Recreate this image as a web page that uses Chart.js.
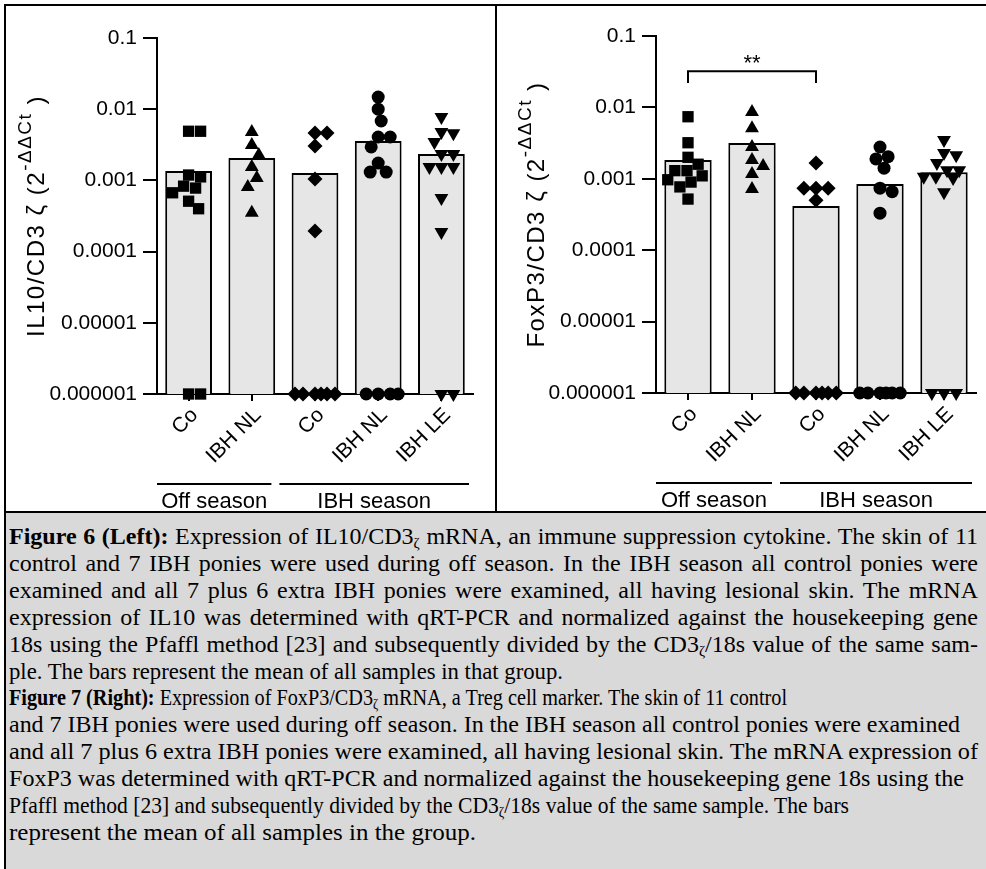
<!DOCTYPE html>
<html>
<head>
<meta charset="utf-8">
<script src="https://cdn.jsdelivr.net/npm/chart.js@4.4.0/dist/chart.umd.min.js"></script>
<style>
html, body { margin: 0; padding: 0; background: #fff; }
body { width: 986px; height: 869px; position: relative; overflow: hidden; }
.ln { position: absolute; background: #000; }
.panel { position: absolute; top: 6px; width: 489px; height: 505px; }
#cap {
  position: absolute; left: 6px; top: 513px; width: 980px; height: 356px;
  background: #d9d9d9; color: #000; box-sizing: border-box; padding: 10px 8px 0 3px;
  font-family: "Liberation Serif", "Times New Roman", serif; font-size: 24px; line-height: 26.9px;
}
#cap .j { text-align: justify; text-align-last: justify; }
#cap .r { white-space: nowrap; transform-origin: 0 50%; width: max-content; }
#cap sub { font-size: 62%; vertical-align: -0.3em; line-height: 0; }
</style>
</head>
<body>
<div class="panel" style="left:6px"><canvas id="il10"></canvas></div>
<div class="panel" style="left:497px"><canvas id="foxp3"></canvas></div>

<div id="cap">
  <div class="j"><b>Figure 6 (Left):</b> Expression of IL10/CD3<sub>ζ</sub> mRNA, an immune suppression cytokine. The skin of 11</div>
  <div class="j">control and 7 IBH ponies were used during off season. In the IBH season all control ponies were</div>
  <div class="j">examined and all 7 plus 6 extra IBH ponies were examined, all having lesional skin. The mRNA</div>
  <div class="j">expression of IL10 was determined with qRT-PCR and normalized against the housekeeping gene</div>
  <div class="j">18s using the Pfaffl method [23] and subsequently divided by the CD3<sub>ζ</sub>/18s value of the same sam-</div>
  <div class="r" data-w="554">ple. The bars represent the mean of all samples in that group.</div>
  <div class="r" data-w="778"><b>Figure 7 (Right):</b> Expression of FoxP3/CD3<sub>ζ</sub> mRNA, a Treg cell marker. The skin of 11 control</div>
  <div class="r" data-w="951">and 7 IBH ponies were used during off season. In the IBH season all control ponies were examined</div>
  <div class="r" data-w="969">and all 7 plus 6 extra IBH ponies were examined, all having lesional skin. The mRNA expression of</div>
  <div class="r" data-w="955">FoxP3 was determined with qRT-PCR and normalized against the housekeeping gene 18s using the</div>
  <div class="r" data-w="840">Pfaffl method [23] and subsequently divided by the CD3<sub>ζ</sub>/18s value of the same sample. The bars</div>
  <div class="r" data-w="467">represent the mean of all samples in the group.</div>
</div>

<div class="ln" style="left:4px;top:4px;width:982px;height:2px"></div>
<div class="ln" style="left:4px;top:4px;width:2px;height:865px"></div>
<div class="ln" style="left:495px;top:4px;width:2px;height:509px"></div>
<div class="ln" style="left:4px;top:511px;width:982px;height:2px"></div>

<script>
// categories and axis
const categories = ['Co', 'IBH NL', 'Co', 'IBH NL', 'IBH LE'];
const seasons = ['Off season', 'IBH season'];
const yTicks = [0.000001, 0.00001, 0.0001, 0.001, 0.01, 0.1];
const yTickLabels = ['0.000001', '0.00001', '0.0001', '0.001', '0.01', '0.1'];

// IL10/CD3 zeta (left)
const il10Means = [0.00136, 0.00207, 0.00127, 0.00357, 0.00235];
const il10CoOff = [0.0049, 0.0049, 0.00119, 0.00112, 0.00083, 0.00078, 0.00067, 0.00051, 0.0004, 0.000001, 0.000001];
const il10NlOff = [0.0048, 0.00314, 0.00228, 0.00154, 0.00108, 0.00081, 0.00035];
const il10CoIbh = [0.00463, 0.00463, 0.00304, 0.00105, 0.000195, 0.000001, 0.000001, 0.000001, 0.000001, 0.000001, 0.000001];
const il10NlIbh = [0.0148, 0.01, 0.00683, 0.00407, 0.00407, 0.00295, 0.00175, 0.00131, 0.00131, 0.000001, 0.000001, 0.000001, 0.000001];
const il10LeIbh = [0.00776, 0.0048, 0.0046, 0.00347, 0.00235, 0.00235, 0.00154, 0.00154, 0.00154, 0.000566, 0.000188, 0.000001, 0.000001];

// FoxP3/CD3 zeta (right)
const foxMeans = [0.00183, 0.00316, 0.000417, 0.000845, 0.00124];
const foxCoOff = [0.0074, 0.0032, 0.002, 0.0016, 0.0013, 0.0013, 0.0011, 0.00097, 0.0009, 0.00077, 0.00052];
const foxNlOff = [0.00863, 0.0051, 0.00279, 0.00183, 0.00151, 0.00117, 0.00072];
const foxCoIbh = [0.00166, 0.00074, 0.00074, 0.00074, 0.0005, 0.000001, 0.000001, 0.000001, 0.000001, 0.000001, 0.000001];
const foxNlIbh = [0.00279, 0.00204, 0.0019, 0.00141, 0.00074, 0.00066, 0.00033, 0.000001, 0.000001, 0.000001, 0.000001, 0.000001, 0.000001];
const foxLeIbh = [0.00349, 0.00229, 0.00214, 0.00166, 0.00132, 0.00132, 0.00107, 0.00107, 0.00103, 0.00065, 0.000001, 0.000001, 0.000001];

// significance bracket (right panel): Co off season vs Co IBH season
const sigPair = [0, 2];
const sigTop = 0.032;
const sigLeg = 0.022;
const sigText = '**';

// marker looks per group
const markerStyle = ['rect', 'triangle', 'rectRot', 'circle', 'triangle'];
const markerRot = [0, 0, 0, 0, 180];
const markerSize = [8, 8, 7.5, 6.5, 8];

const FONT = '"Liberation Sans", Arial, sans-serif';
Chart.defaults.font.family = FONT;
Chart.defaults.font.size = 21;
Chart.defaults.color = '#000';

const PX_DECADE = 71.2;
const PX_CAT = 63.2;

// squeeze the ragged caption lines to the widths they have in the figure
document.querySelectorAll('#cap .r').forEach(el => {
  const w = el.getBoundingClientRect().width;
  el.style.transform = 'scaleX(' + (+el.dataset.w / w) + ')';
});

// simple beeswarm: spread points sideways so they don't sit on top of each other
function swarm(vals, d, maxW) {
  const placed = [];
  const out = new Array(vals.length).fill(0);
  vals.map((v, i) => i).sort((a, b) => vals[b] - vals[a]).forEach(i => {
    const y = Math.log10(vals[i]) * PX_DECADE;
    let best = 0, bestD = -1;
    for (let k = 0; k <= 2 * maxW; k++) {
      const dx = (k % 2 ? 1 : -1) * Math.ceil(k / 2);
      let m = Infinity;
      placed.forEach(p => { m = Math.min(m, Math.hypot(dx - p[0], y - p[1])); });
      if (m >= d) { best = dx; bestD = m; break; }
      if (m > bestD) { bestD = m; best = dx; }
    }
    placed.push([best, y]);
    out[i] = best;
  });
  return out;
}

const extras = {
  id: 'extras',
  afterDraw(chart, args, o) {
    const ctx = chart.ctx, a = chart.chartArea;
    const xs = chart.scales.x, ys = chart.scales.y;
    const cx = i => xs.getPixelForValue(i);
    ctx.save();
    ctx.fillStyle = '#000';
    ctx.strokeStyle = '#000';
    ctx.lineWidth = 2;

    // y title with superscript
    ctx.save();
    ctx.translate(o.titleX, (a.top + a.bottom) / 2);
    ctx.rotate(-Math.PI / 2);
    ctx.textBaseline = 'middle';
    ctx.textAlign = 'left';
    ctx.letterSpacing = '1.5px';
    const big = '24px ' + FONT, small = '19px ' + FONT;
    const t1 = o.title + ' (2', t2 = '-ΔΔCt', t3 = ' )';
    ctx.font = big;
    const w1 = ctx.measureText(t1).width, w3 = ctx.measureText(t3).width;
    ctx.font = small;
    const w2 = ctx.measureText(t2).width;
    let sx = -(w1 + w2 + w3) / 2;
    ctx.font = big; ctx.fillText(t1, sx, 0); sx += w1;
    ctx.font = small; ctx.fillText(t2, sx, -11); sx += w2;
    ctx.font = big; ctx.fillText(t3, sx, 0);
    ctx.restore();

    // season lines + labels
    const mid = (cx(1) + cx(2)) / 2;
    const ly = a.bottom + 90;
    const segs = [[a.left, mid - 12], [mid - 4, a.right - 4]];
    ctx.font = '22px ' + FONT;
    ctx.textAlign = 'center';
    ctx.textBaseline = 'middle';
    segs.forEach((s, i) => {
      ctx.beginPath();
      ctx.moveTo(s[0], ly);
      ctx.lineTo(s[1], ly);
      ctx.stroke();
      ctx.fillText(seasons[i], (s[0] + s[1]) / 2, ly + 18);
    });

    // significance bracket
    if (o.sig) {
      const x1 = cx(sigPair[0]), x2 = cx(sigPair[1]);
      const yt = ys.getPixelForValue(sigTop), yl = ys.getPixelForValue(sigLeg);
      ctx.beginPath();
      ctx.moveTo(x1, yl); ctx.lineTo(x1, yt); ctx.lineTo(x2, yt); ctx.lineTo(x2, yl);
      ctx.stroke();
      ctx.font = '22px ' + FONT;
      ctx.textBaseline = 'alphabetic';
      ctx.fillText(sigText, (x1 + x2) / 2, yt - 1);
    }
    ctx.restore();
  }
};

function makePanel(id, means, groups, p) {
  const el = document.getElementById(id);
  el.width = 489; el.height = 505;
  const pointSets = groups.map((vals, gi) => {
    const off = swarm(vals, 12, 20);
    return {
      type: 'scatter',
      xAxisID: 'xs',
      yAxisID: 'y',
      data: vals.map((v, i) => ({ x: gi + off[i] / PX_CAT, y: v })),
      pointStyle: markerStyle[gi],
      rotation: markerRot[gi],
      pointRadius: markerSize[gi],
      pointHoverRadius: markerSize[gi],
      backgroundColor: '#000',
      borderColor: '#000',
      borderWidth: 0,
      clip: false,
      order: 0
    };
  });
  new Chart(el, {
    type: 'bar',
    data: {
      labels: categories,
      datasets: pointSets.concat([{
        type: 'bar',
        xAxisID: 'x',
        yAxisID: 'y',
        data: means,
        backgroundColor: '#e6e6e6',
        borderColor: '#000',
        borderWidth: 2,
        grouped: false,
        barPercentage: 0.74,
        categoryPercentage: 1,
        order: 1
      }])
    },
    options: {
      responsive: false,
      animation: false,
      devicePixelRatio: 1,
      events: [],
      layout: { padding: { top: p.top, right: p.right, left: 0, bottom: 0 } },
      plugins: {
        legend: { display: false },
        tooltip: { enabled: false },
        extras: { title: p.title, titleX: p.titleX, sig: p.sig }
      },
      scales: {
        x: {
          type: 'category',
          offset: true,
          grid: { display: true, drawOnChartArea: false, drawTicks: true, tickLength: 7, color: '#000', lineWidth: 2, offset: false },
          border: { display: true, color: '#000', width: 2 },
          ticks: { color: '#000', font: { size: 21 }, maxRotation: 45, minRotation: 45, autoSkip: false, padding: 2, labelOffset: 6 },
          afterFit(s) { s.height = p.xH; }
        },
        xs: { type: 'linear', display: false, offset: false, grid: { offset: false }, min: -0.5, max: 4.5 },
        y: {
          type: 'logarithmic',
          min: 0.000001,
          max: 0.1,
          afterBuildTicks(s) { s.ticks = yTicks.map(v => ({ value: v })); },
          ticks: { color: '#000', font: { size: 21 }, padding: 6, autoSkip: false, callback: (v, i) => yTickLabels[i] },
          grid: { display: true, drawOnChartArea: false, drawTicks: true, tickLength: 14, color: '#000', lineWidth: 2 },
          border: { display: true, color: '#000', width: 2 },
          afterFit(s) { s.width = p.yW; }
        }
      }
    },
    plugins: [extras]
  });
}

makePanel('il10', il10Means, [il10CoOff, il10NlOff, il10CoIbh, il10NlIbh, il10LeIbh],
  { title: 'IL10/CD3 ζ', titleX: 31, top: 32, right: 22, yW: 151, xH: 117, sig: false });
makePanel('foxp3', foxMeans, [foxCoOff, foxNlOff, foxCoIbh, foxNlIbh, foxLeIbh],
  { title: 'FoxP3/CD3 ζ', titleX: 40, top: 30, right: 10, yW: 159, xH: 118, sig: true });
</script>
</body>
</html>
